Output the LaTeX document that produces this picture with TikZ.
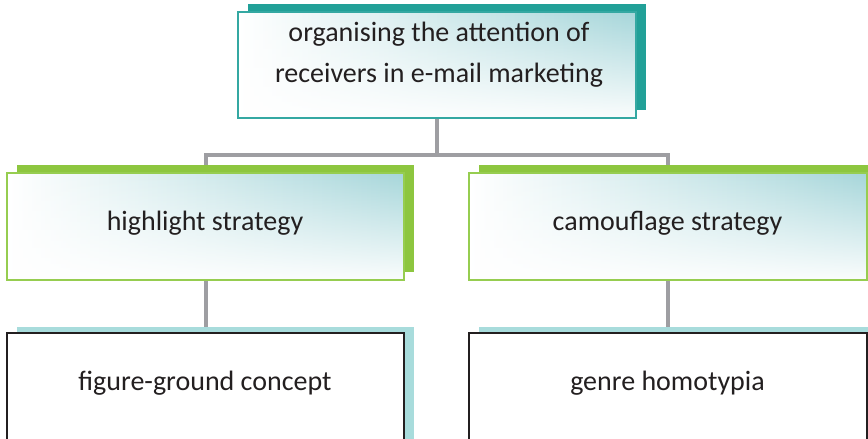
\documentclass[tikz,border=0pt]{standalone}
\usepackage{fontspec}
\setmainfont{Carlito}
\usetikzlibrary{shadows,fadings,backgrounds}
\definecolor{tealdark}{RGB}{33,160,152}
\definecolor{tealborder}{RGB}{52,168,162}
\definecolor{greenS}{RGB}{141,198,63}
\definecolor{greenB}{RGB}{150,205,80}
\definecolor{tealL}{RGB}{166,214,218}
\definecolor{tealshadow}{RGB}{168,220,220}
\definecolor{conn}{RGB}{158,158,162}
\definecolor{txt}{RGB}{35,31,32}
\tikzfading[name=fadebottom, top color=transparent!100, middle color=transparent!75, bottom color=transparent!5]
\tikzset{
  gbox/.style n args={4}{rectangle, inner sep=0pt, left color=white, right color=tealL,
    copy shadow={fill=#2, draw=none, shadow xshift=#3, shadow yshift=#4},
    postaction={fill=white, path fading=fadebottom},
    postaction={draw=#1, line width=1.6pt}},
  wbox/.style={rectangle, inner sep=0pt, fill=white, draw=txt, line width=1.5pt,
    copy shadow={fill=tealshadow, draw=none, shadow xshift=10pt, shadow yshift=6pt}},
  label txt/.style={font=\fontsize{28}{41}\selectfont, text=txt, inner sep=0pt, align=center},
  conn line/.style={draw=conn, line width=4pt}
}
\begin{document}
\begin{tikzpicture}[x=1pt,y=-1pt]
\useasboundingbox (0,0) rectangle (868,439);
\clip (0,0) rectangle (868,439);
\node[gbox={tealborder}{tealdark}{9.5pt}{8pt}, minimum width=398pt, minimum height=106pt] (top) at (437,65) {};
\node[gbox={greenB}{greenS}{10pt}{8pt}, minimum width=397pt, minimum height=107pt] (hl) at (205.5,226.5) {};
\node[gbox={greenB}{greenS}{10pt}{8pt}, minimum width=398pt, minimum height=107pt] (cf) at (668,226.5) {};
\node[wbox, minimum width=397pt, minimum height=120pt] (fg) at (205.5,393) {};
\node[wbox, minimum width=398pt, minimum height=120pt] (gh) at (668,393) {};
\node[label txt] (toptext) at (439,54.5) {organising the attention of\\receivers in e-mail marketing};
\node[label txt, anchor=base] (hltext) at (205,230) {highlight strategy};
\node[label txt, anchor=base] (cftext) at (667.5,230) {camouflage strategy};
\node[label txt, anchor=base] (fgtext) at (205,390) {figure-ground concept};
\node[label txt, anchor=base] (ghtext) at (667.5,390) {genre homotypia};
\coordinate (j) at (437,155);
\begin{scope}[on background layer]
\draw[conn line] (top.south) -- (j);
\draw[conn line] (hl.north) |- (j) -| (cf.north);
\draw[conn line] (hl.south) -- (fg.north);
\draw[conn line] (cf.south) -- (gh.north);
\end{scope}
\end{tikzpicture}
\end{document}
